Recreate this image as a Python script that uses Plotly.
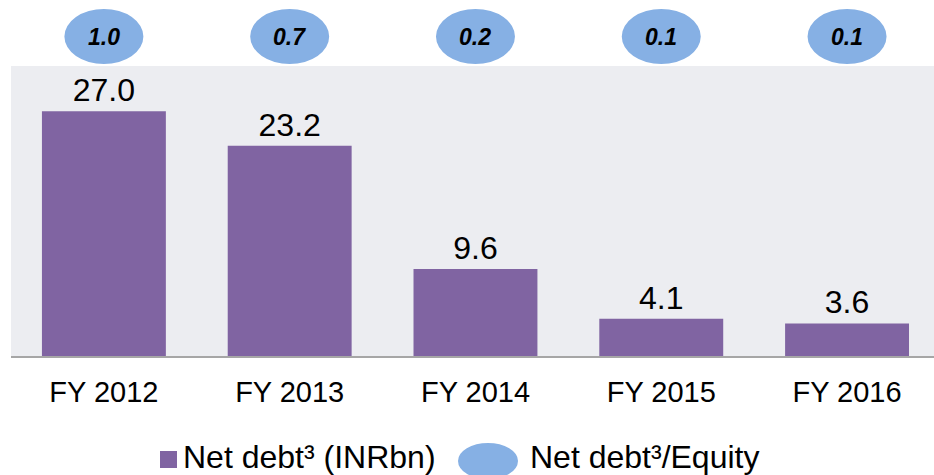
import plotly.graph_objects as go

categories = ["FY 2012", "FY 2013", "FY 2014", "FY 2015", "FY 2016"]
net_debt = [27.0, 23.2, 9.6, 4.1, 3.6]
debt_equity = [1.0, 0.7, 0.2, 0.1, 0.1]
bar_name = "Net debt³ (INRbn)"
ratio_name = "Net debt³/Equity"

PURPLE = "#8064A2"
BLUE = "#86B0E4"
BG = "#ECEDF1"
FONT = "Liberation Sans, Arial, sans-serif"

W, H = 934, 475
L, R, T, B = 11, 0, 66, 119
pw = W - L - R
ph = H - T - B

def px_x(px):
    return (px - L) / pw

def px_y(py):
    return (H - B - py) / ph

fig = go.Figure()
fig.add_trace(go.Bar(
    x=list(range(len(categories))), y=net_debt,
    marker=dict(color=PURPLE, line=dict(width=0)),
    width=0.667,
    text=[f"{v:.1f}" for v in net_debt], textposition="outside",
    textfont=dict(size=32, color="#000", family=FONT),
    cliponaxis=False, showlegend=False, name="Net debt",
))

shapes = []
annotations = []
for i, r in enumerate(debt_equity):
    shapes.append(dict(type="circle", xref="x", yref="paper",
                       xsizemode="pixel", ysizemode="pixel",
                       xanchor=i, yanchor=1,
                       x0=-39.5, x1=39.5, y0=2, y1=57,
                       fillcolor=BLUE, line=dict(width=0), layer="above"))
    annotations.append(dict(x=i, y=1, xref="x", yref="paper",
                            xanchor="center", yanchor="middle",
                            yshift=29, showarrow=False,
                            text=f"<b><i>{r:.1f}</i></b>",
                            font=dict(size=23, color="#000", family=FONT)))

# manual legend
shapes.append(dict(type="rect", xref="paper", yref="paper",
                   x0=px_x(160), x1=px_x(177), y0=px_y(468), y1=px_y(451),
                   fillcolor=PURPLE, line=dict(width=0)))
annotations.append(dict(x=px_x(181), y=px_y(457), xref="paper", yref="paper",
                        xanchor="left", yanchor="middle", showarrow=False,
                        text=bar_name, font=dict(size=32, color="#000", family=FONT)))
shapes.append(dict(type="circle", xref="paper", yref="paper",
                   x0=px_x(458), x1=px_x(518), y0=px_y(479), y1=px_y(443),
                   fillcolor=BLUE, line=dict(width=0)))
annotations.append(dict(x=px_x(528), y=px_y(457), xref="paper", yref="paper",
                        xanchor="left", yanchor="middle", showarrow=False,
                        text=ratio_name, font=dict(size=32, color="#000", family=FONT)))

fig.update_layout(
    width=W, height=H,
    margin=dict(l=L, r=R, t=T, b=B, pad=0),
    paper_bgcolor="white", plot_bgcolor=BG,
    bargap=0.333,
    shapes=shapes, annotations=annotations,
    xaxis=dict(tickmode="array", tickvals=list(range(len(categories))),
               ticktext=categories, range=[-0.5, 4.468],
               showgrid=False, zeroline=False, showline=True,
               linecolor="#A6A6A6", linewidth=2,
               ticks="", ticklabelstandoff=9,
               tickfont=dict(size=29, color="#000", family=FONT)),
    yaxis=dict(range=[0, 32], visible=False, showgrid=False, zeroline=False),
    font=dict(family=FONT),
)

fig.write_html("out.html", config={"displayModeBar": False},
               post_script="document.body.style.margin='0';document.body.style.overflow='hidden';")
